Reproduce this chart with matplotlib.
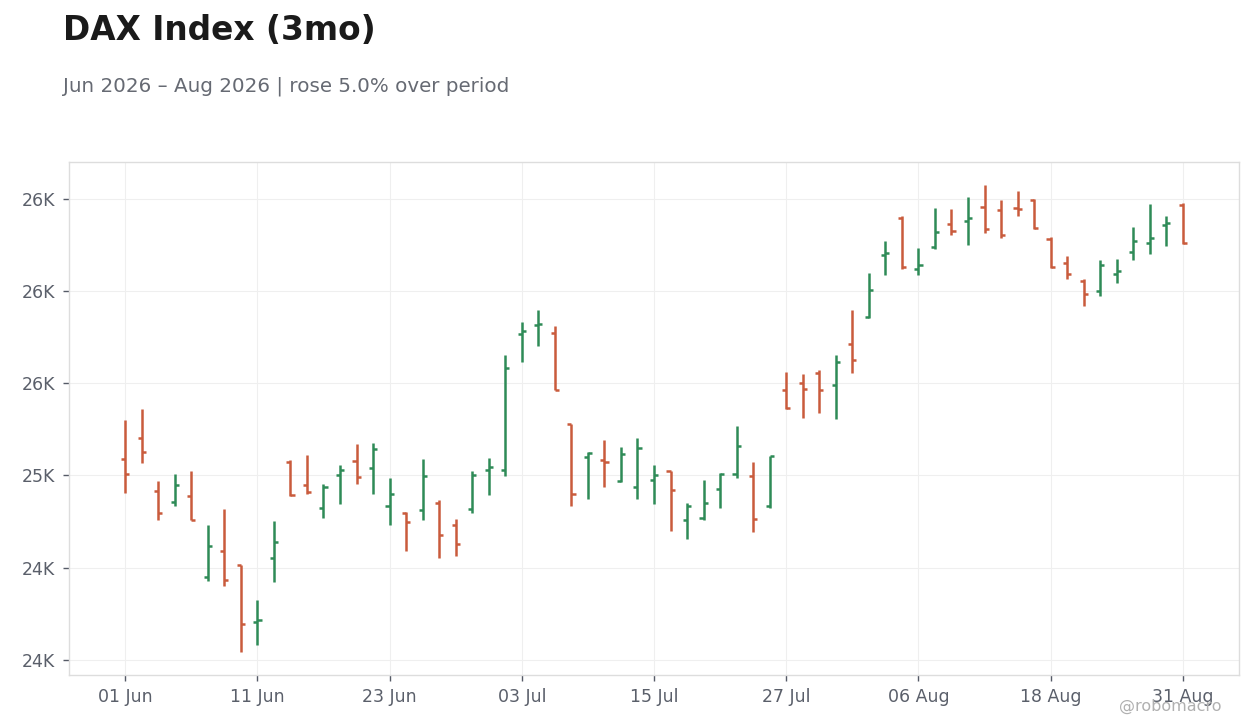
import matplotlib
matplotlib.use("Agg")
import matplotlib.pyplot as plt
from matplotlib.ticker import FuncFormatter
import numpy as np
import pandas as pd

# ---- data ----
dates = [d for d in pd.bdate_range("2026-06-01", "2026-08-31") if d != pd.Timestamp("2026-08-28")]

opens = [25087, 25201, 24913, 24854, 24886, 24452, 24593, 24514, 24208, 24550,
         25071, 24946, 24821, 25000, 25076, 25038, 24837, 24794, 24810, 24848,
         24729, 24816, 25031, 25027, 25765, 25814, 25771, 25277, 25098, 25082,
         24968, 24935, 24973, 25022, 24756, 24772, 24924, 25006, 24995, 24832,
         25461, 25499, 25554, 25489, 25711, 25858, 26194, 26395, 26118, 26237,
         26362, 26378, 26454, 26438, 26449, 26492, 26281, 26150, 26053, 25997,
         26089, 26210, 26257, 26355, 26467]
highs = [25302, 25362, 24971, 25009, 25026, 24733, 24819, 24516, 24326, 24754,
         25085, 25112, 24955, 25058, 25172, 25178, 24988, 24803, 25091, 24868,
         24765, 25026, 25096, 25655, 25829, 25899, 25812, 25279, 25129, 25194,
         25156, 25205, 25058, 25024, 24852, 24977, 25012, 25270, 25074, 25106,
         25563, 25552, 25574, 25650, 25894, 26095, 26268, 26404, 26230, 26447,
         26442, 26507, 26572, 26491, 26540, 26496, 26294, 26187, 26062, 26165,
         26171, 26344, 26469, 26404, 26475]
lows = [24905, 25065, 24761, 24832, 24758, 24430, 24403, 24045, 24083, 24425,
        24886, 24902, 24767, 24843, 24951, 24897, 24729, 24593, 24761, 24550,
        24561, 24799, 24892, 24995, 25613, 25700, 25463, 24832, 24870, 24940,
        24962, 24870, 24843, 24698, 24655, 24756, 24821, 24984, 24696, 24821,
        25362, 25309, 25337, 25304, 25554, 25855, 26085, 26120, 26085, 26225,
        26302, 26247, 26313, 26286, 26406, 26338, 26125, 26064, 25917, 25971,
        26042, 26167, 26199, 26243, 26254]
closes = [25006, 25125, 24799, 24946, 24760, 24620, 24434, 24197, 24215, 24637,
          24895, 24912, 24935, 25027, 24989, 25141, 24897, 24745, 24995, 24675,
          24631, 25000, 25044, 25581, 25782, 25820, 25465, 24897, 25120, 25071,
          25114, 25147, 25000, 24919, 24832, 24848, 25010, 25157, 24765, 25105,
          25364, 25467, 25461, 25613, 25628, 26004, 26205, 26127, 26140, 26319,
          26324, 26395, 26333, 26302, 26444, 26340, 26127, 26091, 25981, 26140,
          26107, 26270, 26286, 26368, 26257]

title = "DAX Index (3mo)"
subtitle = "Jun 2026 \u2013 Aug 2026 | rose 5.0% over period"
watermark = "@robomacro"

UP = "#2e8b57"
DOWN = "#c95b3c"

fig = plt.figure(figsize=(12.6, 7.28), dpi=100)
ax = fig.add_axes([69 / 1260, 1 - 675 / 728, (1239 - 69) / 1260, (675 - 162) / 728])

x = np.arange(len(opens))
o = np.array(opens); h = np.array(highs); l = np.array(lows); c = np.array(closes)
colors = [UP if cc >= oo else DOWN for oo, cc in zip(o, c)]
tick = 0.25
lw = 1.8
ax.vlines(x, l, h, colors=colors, linewidth=lw, zorder=3)
ax.hlines(o, x - tick, x, colors=colors, linewidth=lw, zorder=3)
ax.hlines(c, x, x + tick, colors=colors, linewidth=lw, zorder=3)

ax.set_xlim(-3.4, len(x) - 1 + 3.4)
rng = h.max() - l.min()
ax.set_ylim(l.min() - 0.05 * rng, h.max() + 0.05 * rng)

ax.set_yticks([24000, 24500, 25000, 25500, 26000, 26500])
ax.yaxis.set_major_formatter(FuncFormatter(lambda v, p: f"{v / 1000:.0f}K"))
tpos = np.linspace(0, len(x) - 1, 9).astype(int)
ax.set_xticks(tpos)
ax.set_xticklabels([dates[i].strftime("%d %b") for i in tpos])

ax.grid(True, color="#efefef", linewidth=0.8, zorder=0)
ax.set_axisbelow(True)
for s in ax.spines.values():
    s.set_color("#dddddd")
    s.set_linewidth(1.0)
ax.tick_params(axis="both", colors="#555a66", labelsize=12.5, length=4, width=1)
ax.tick_params(axis="x", pad=5)
ax.tick_params(axis="y", pad=6)
for t in ax.get_xticklabels() + ax.get_yticklabels():
    t.set_color("#5a5f6a")

fig.text(63 / 1260, 1 - 40 / 728, title, fontsize=23.6, fontweight="bold", color="#1a1a1a",
         ha="left", va="baseline")
fig.text(63 / 1260, 1 - 91 / 728, subtitle, fontsize=14.3, color="#666a73",
         ha="left", va="baseline")
fig.text(1222 / 1260, 1 - 711 / 728, watermark, fontsize=11.5, color="#b0b0b0",
         ha="right", va="baseline")

fig.savefig("out.png", dpi=100)
